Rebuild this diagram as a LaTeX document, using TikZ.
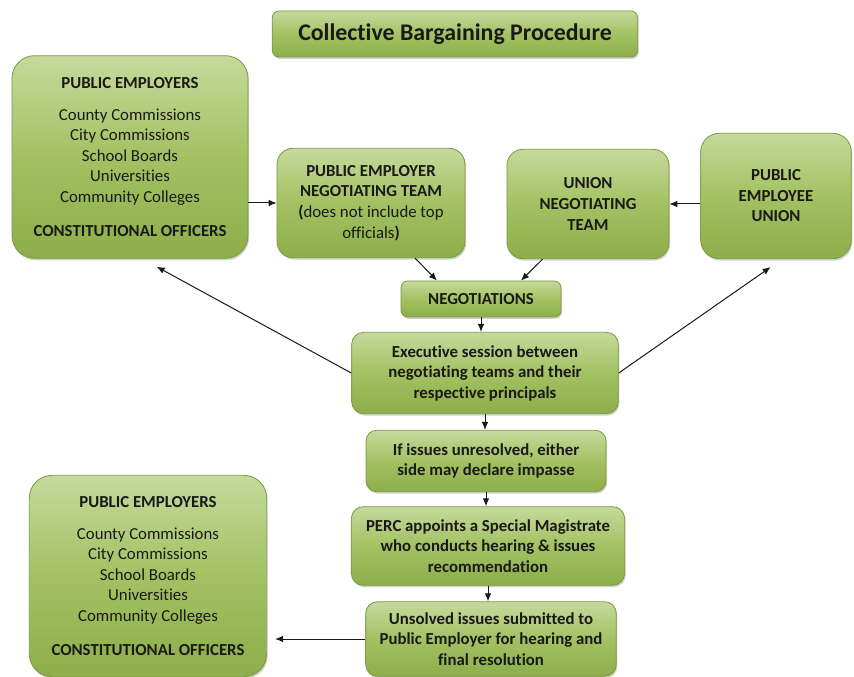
\documentclass[tikz,border=0pt]{standalone}
\usepackage{fontspec}
\setmainfont{Carlito}[Ligatures=NoCommon]
\usetikzlibrary{arrows.meta,positioning,shadows}
\definecolor{greentop}{HTML}{C5DA9C}
\definecolor{greenmid}{HTML}{A3C162}
\definecolor{greenbot}{HTML}{8DAE4A}
\definecolor{greenedge}{HTML}{7A9A3E}
\tikzset{
  greenbox/.style={draw=greenedge, line width=0.6pt, top color=greentop,
    bottom color=greenbot, middle color=greenmid, rounded corners=#1,
    align=center, inner sep=0pt, text=black!90,
    font=\fontsize{12.6}{15.4}\selectfont,
    drop shadow={opacity=0.35, shadow xshift=0.8pt, shadow yshift=-1.5pt}},
  greenbox/.default=10pt,
  flow/.style={-{Latex[length=6pt,width=5pt]}, line width=0.75pt, black!90}
}

\begin{document}
\begin{tikzpicture}[x=0.75pt,y=-0.75pt]
  \useasboundingbox (0,0) rectangle (854,677);
  % title
  \node[greenbox=5pt, minimum width=274pt, minimum height=34.5pt,
        font=\fontsize{17.9}{20}\selectfont\bfseries] (title) at (455,34)
        {Collective Bargaining Procedure};
  % top row
  \node[greenbox=17pt, minimum width=177pt, minimum height=152pt] (pubemp) at (130,157)
        {\textbf{PUBLIC EMPLOYERS}\\[8pt] County Commissions\\City Commissions\\
         School Boards\\Universities\\Community Colleges\\[10pt]
         \textbf{CONSTITUTIONAL OFFICERS}};
  \node[greenbox=12pt, minimum width=141pt, minimum height=82pt] (empteam) at (371,203)
        {\textbf{PUBLIC EMPLOYER}\\\textbf{NEGOTIATING TEAM}\\
         \textbf{(}does not include top\\officials\textbf{)}};
  \node[greenbox=12pt, minimum width=121.5pt, minimum height=82pt,
        font=\fontsize{12.6}{15.4}\selectfont\bfseries] (unionteam) at (588,204)
        {UNION\\NEGOTIATING\\TEAM};
  \node[greenbox=14pt, minimum width=113pt, minimum height=94pt,
        font=\fontsize{12.6}{15.4}\selectfont\bfseries] (union) at (776,196)
        {PUBLIC\\EMPLOYEE\\UNION};
  % process column
  \node[greenbox=5pt, minimum width=120pt, minimum height=27pt,
        font=\fontsize{12.6}{15.4}\selectfont\bfseries] (negot) at (481,299)
        {NEGOTIATIONS};
  \node[greenbox=9pt, minimum width=200pt, minimum height=61pt,
        font=\fontsize{12.6}{15.4}\selectfont\bfseries] (execsess) at (485,373)
        {Executive session between\\negotiating teams and their\\respective principals};
  \node[greenbox=8pt, minimum width=180pt, minimum height=46pt,
        font=\fontsize{12.6}{15.4}\selectfont\bfseries] (impasse) at (486,461)
        {If issues unresolved, either\\side may declare impasse};
  \node[greenbox=9pt, minimum width=205pt, minimum height=59pt,
        font=\fontsize{12.6}{15.4}\selectfont\bfseries] (perc) at (488,546)
        {PERC appoints a Special Magistrate\\who conducts hearing \& issues\\recommendation};
  \node[greenbox=9pt, minimum width=188pt, minimum height=56pt,
        font=\fontsize{12.6}{15.4}\selectfont\bfseries] (unsolved) at (491,639)
        {Unsolved issues submitted to\\Public Employer for hearing and\\final resolution};
  % bottom left
  \node[greenbox=17pt, minimum width=178pt, minimum height=151pt] (pubemp2) at (148,576)
        {\textbf{PUBLIC EMPLOYERS}\\[8pt] County Commissions\\City Commissions\\
         School Boards\\Universities\\Community Colleges\\[10pt]
         \textbf{CONSTITUTIONAL OFFICERS}};

  % connectors
  \draw[flow] (pubemp.east |- empteam.west) -- (empteam.west);
  \draw[flow] (union.west |- unionteam.east) -- (unionteam.east);
  \draw[flow] ([xshift=33pt]empteam.south) -- ([xshift=-33pt]negot.north);
  \draw[flow] ([xshift=-34pt]unionteam.south) -- ([xshift=30pt]negot.north);
  \draw[flow] (negot.south) -- (negot.south |- execsess.north);
  \draw[flow] (execsess.west) -- ([xshift=20pt,yshift=-6pt]pubemp.south);
  \draw[flow] (execsess.east) -- ([xshift=-4pt,yshift=-6pt]union.south);
  \draw[flow] (execsess.south) -- (execsess.south |- impasse.north);
  \draw[flow] (impasse.south) -- (impasse.south |- perc.north);
  \draw[flow] (perc.south) -- (perc.south |- unsolved.north);
  \draw[flow] (unsolved.west) -- ([xshift=6pt]pubemp2.east |- unsolved.west);
\end{tikzpicture}
\end{document}
